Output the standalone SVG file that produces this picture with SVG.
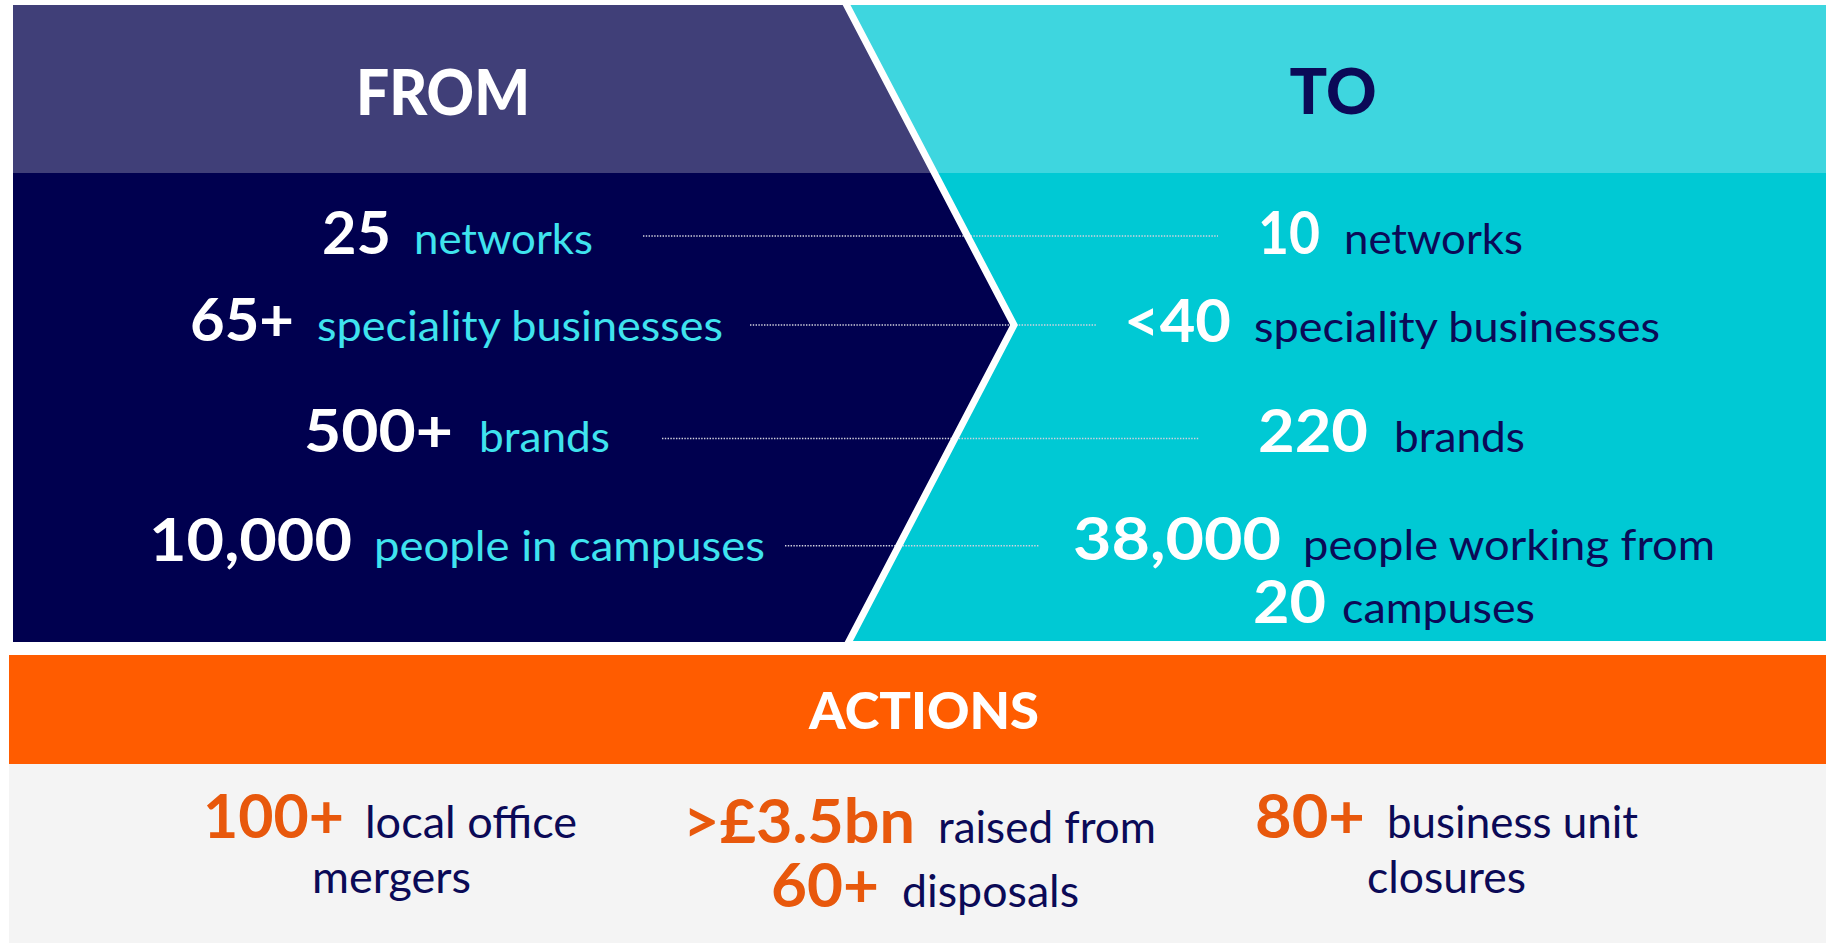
<svg xmlns="http://www.w3.org/2000/svg" width="1826" height="943" viewBox="0 0 1826 943">
<style>
.num{font-family:Lato,"Open Sans","Liberation Sans",sans-serif;font-weight:700;font-size:60px}
.word{font-family:Lato,"Open Sans","Liberation Sans",sans-serif;font-weight:400;font-size:43px}
.head{font-family:Lato,"Liberation Sans",sans-serif;font-weight:900;font-size:62px}
.act{font-size:62px}
.actw{font-size:44px}
.w{fill:#ffffff}
.cy{fill:#3FE3EE}
.nv{fill:#0B0A57}
.or{fill:#E8580C}
.dot{stroke:#D2D2DE;stroke-width:1.6;stroke-dasharray:1.4 1.4;fill:none}
</style>
<rect x="0" y="0" width="1826" height="943" fill="#ffffff"/>
<g id="to-panel">
<rect x="840" y="5" width="986" height="168" fill="#3ED6DF"/>
<rect x="840" y="173" width="986" height="468" fill="#00C9D4"/>
</g>
<g id="from-panel">
<polygon points="13,5 845,5 934,173 13,173" fill="#403F78"/>
<polygon points="13,173 934,173 1014,325 848,642 13,642" fill="#00004F"/>
</g>
<g id="actions-panel">
<rect x="9" y="655" width="1817" height="109" fill="#FF5C00"/>
<rect x="9" y="764" width="1817" height="179" fill="#F4F4F4"/>
</g>
<g id="connectors">
<line class="dot" x1="643" y1="236" x2="1218" y2="236"/>
<line class="dot" x1="750" y1="325" x2="1097" y2="325"/>
<line class="dot" x1="662" y1="438.5" x2="1199" y2="438.5"/>
<line class="dot" x1="785" y1="545.7" x2="1039" y2="545.7"/>
</g>
<polyline id="chevron" points="845,2 1014,325 847,645" fill="none" stroke="#ffffff" stroke-width="7"/>
<g id="headers">
<text class="head w" x="443" y="115" text-anchor="middle" textLength="174" lengthAdjust="spacingAndGlyphs">FROM</text>
<text class="head nv" x="1333" y="114" text-anchor="middle" textLength="87" lengthAdjust="spacingAndGlyphs">TO</text>
<text class="head w" x="924" y="729" text-anchor="middle" style="font-size:51px" textLength="230" lengthAdjust="spacingAndGlyphs">ACTIONS</text>
</g>
<g id="from-networks"><text class="num w" x="391" y="254" text-anchor="end" textLength="69" lengthAdjust="spacingAndGlyphs">25</text><text class="word cy" x="414" y="254" textLength="179" lengthAdjust="spacingAndGlyphs">networks</text></g>
<g id="from-speciality"><text class="num w" x="294" y="341" text-anchor="end" textLength="104" lengthAdjust="spacingAndGlyphs">65+</text><text class="word cy" x="317" y="341" textLength="406" lengthAdjust="spacingAndGlyphs">speciality businesses</text></g>
<g id="from-brands"><text class="num w" x="453" y="452" text-anchor="end" textLength="149" lengthAdjust="spacingAndGlyphs">500+</text><text class="word cy" x="479" y="452" textLength="131" lengthAdjust="spacingAndGlyphs">brands</text></g>
<g id="from-people"><text class="num w" x="352" y="561" text-anchor="end" textLength="203" lengthAdjust="spacingAndGlyphs">10,000</text><text class="word cy" x="374" y="561" textLength="391" lengthAdjust="spacingAndGlyphs">people in campuses</text></g>
<g id="to-networks"><text class="num w" x="1320" y="254" text-anchor="end" textLength="62" lengthAdjust="spacingAndGlyphs">10</text><text class="word nv" x="1344" y="254" textLength="179" lengthAdjust="spacingAndGlyphs">networks</text></g>
<g id="to-speciality"><text class="num w" x="1231" y="341.5" text-anchor="end" textLength="107" lengthAdjust="spacingAndGlyphs">&lt;40</text><text class="word nv" x="1254" y="341.5" textLength="406" lengthAdjust="spacingAndGlyphs">speciality businesses</text></g>
<g id="to-brands"><text class="num w" x="1368" y="452" text-anchor="end" textLength="110" lengthAdjust="spacingAndGlyphs">220</text><text class="word nv" x="1394" y="452" textLength="131" lengthAdjust="spacingAndGlyphs">brands</text></g>
<g id="to-people"><text class="num w" x="1281" y="560" text-anchor="end" textLength="208" lengthAdjust="spacingAndGlyphs">38,000</text><text class="word nv" x="1303" y="560" textLength="412" lengthAdjust="spacingAndGlyphs">people working from</text>
<text class="num w" x="1326" y="622.7" text-anchor="end" textLength="73" lengthAdjust="spacingAndGlyphs">20</text><text class="word nv" x="1342" y="622.7" textLength="193" lengthAdjust="spacingAndGlyphs">campuses</text></g>
<g id="action-mergers"><text class="num or act" x="344" y="837.7" text-anchor="end" textLength="141" lengthAdjust="spacingAndGlyphs">100+</text><text class="word nv actw" x="365" y="837.7" textLength="212" lengthAdjust="spacingAndGlyphs">local office</text>
<text class="word nv actw" x="312" y="892.7" textLength="159" lengthAdjust="spacingAndGlyphs">mergers</text></g>
<g id="action-disposals"><text class="num or act" x="915" y="843.3" text-anchor="end" textLength="232" lengthAdjust="spacingAndGlyphs">&gt;£3.5bn</text><text class="word nv actw" x="938" y="842.7" textLength="218" lengthAdjust="spacingAndGlyphs">raised from</text>
<text class="num or act" x="879" y="906.7" text-anchor="end" textLength="108" lengthAdjust="spacingAndGlyphs">60+</text><text class="word nv actw" x="902" y="906.7" textLength="177" lengthAdjust="spacingAndGlyphs">disposals</text></g>
<g id="action-closures"><text class="num or act" x="1365" y="837.7" text-anchor="end" textLength="110" lengthAdjust="spacingAndGlyphs">80+</text><text class="word nv actw" x="1387" y="837.7" textLength="251" lengthAdjust="spacingAndGlyphs">business unit</text>
<text class="word nv actw" x="1367" y="892.7" textLength="159" lengthAdjust="spacingAndGlyphs">closures</text></g>
</svg>
